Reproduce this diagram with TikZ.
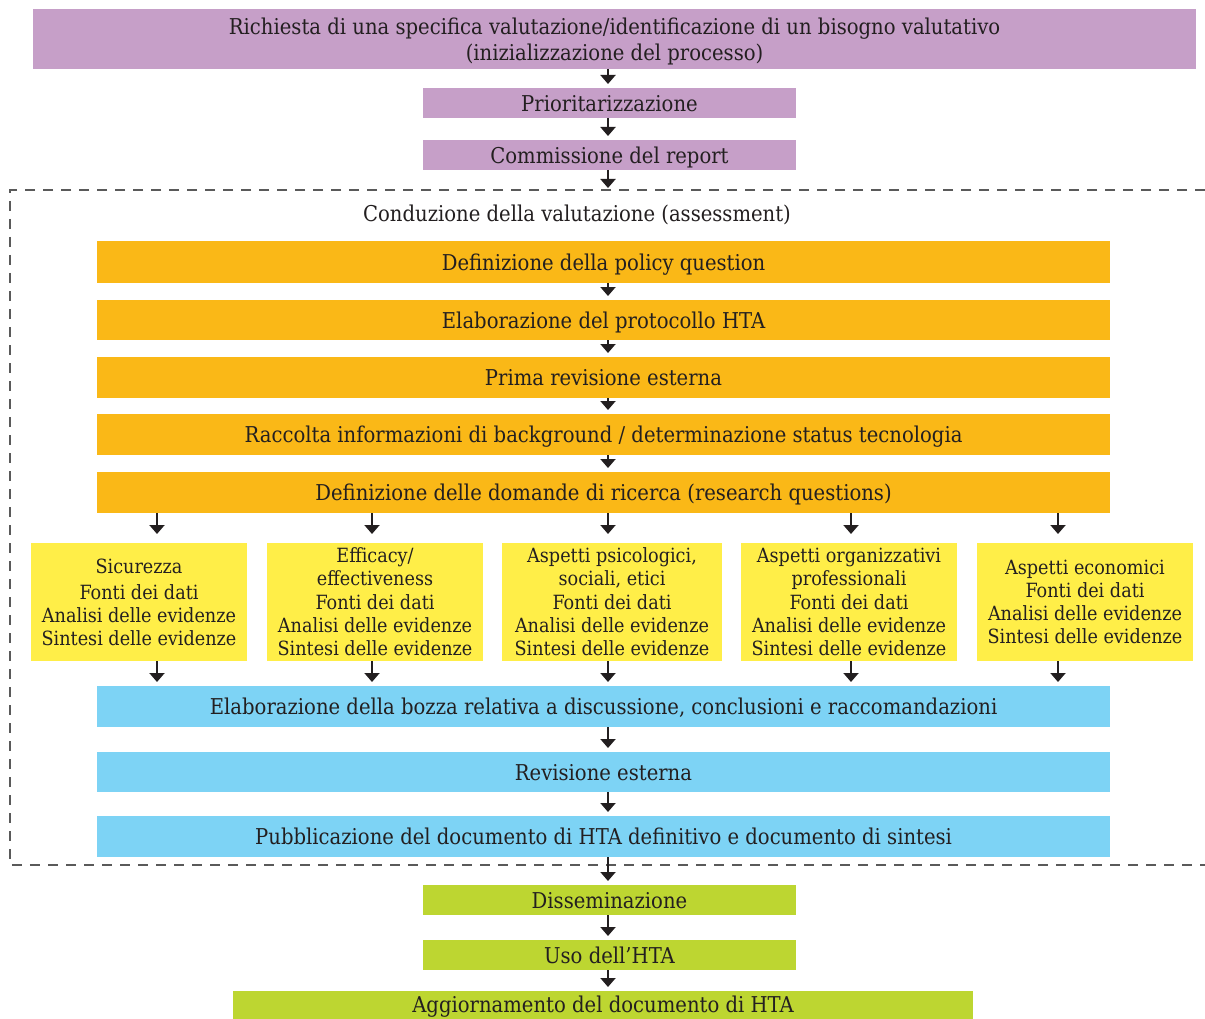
\documentclass[tikz,border=0pt]{standalone}
\usepackage{fontspec}
\setmainfont{DejaVu Serif Condensed}
\usetikzlibrary{arrows.meta}
\definecolor{cpurple}{RGB}{198,159,200}
\definecolor{corange}{RGB}{250,184,23}
\definecolor{cyellow}{RGB}{255,238,72}
\definecolor{cblue}{RGB}{125,211,245}
\definecolor{cgreen}{RGB}{189,214,49}
\definecolor{ctext}{RGB}{35,31,32}
\definecolor{cdash}{RGB}{90,90,90}
\tikzset{
  box/.style={inner sep=0pt, outer sep=0pt, align=center, text=ctext,
    font=\fontsize{21.8}{26}\selectfont},
  lowbox/.style={box, text depth=0pt},
  pbox/.style={lowbox, fill=cpurple},
  obox/.style={lowbox, fill=corange},
  ybox/.style={box, fill=cyellow, font=\fontsize{19.6}{23}\selectfont, minimum height=118pt},
  bbox/.style={lowbox, fill=cblue},
  gbox/.style={lowbox, fill=cgreen},
  flow/.style={draw=ctext, line width=2pt, -{Triangle[width=15pt,length=9pt]}, shorten >=4pt},
  flowy/.style={flow, shorten >=9pt},
}
\begin{document}
\begin{tikzpicture}[x=1pt,y=-1pt]
\useasboundingbox (0,0) rectangle (1205,1019);
\fill[white] (0,0) rectangle (1205,1019);
% dashed frame
\draw[cdash, line width=1.5pt, dash pattern=on 10pt off 8pt] (1205,190) -- (10,190) -- (10,865) -- (1205,865);

\coordinate (sp) at (608,0);
\node[pbox, minimum width=1163pt, minimum height=60pt] (top) at (614.5,39) {Richiesta di una specifica valutazione/identificazione di un bisogno valutativo\\(inizializzazione del processo)};
\node[pbox, minimum width=373pt, minimum height=30pt] (prio) at (609.5,103) {Prioritarizzazione};
\node[pbox, minimum width=373pt, minimum height=30pt] (comm) at (609.5,155) {Commissione del report};

\node[box] (cond) at (577,215) {Conduzione della valutazione (assessment)};

\node[obox, minimum width=1013pt, minimum height=42pt] (o1) at (603.5,262) {Definizione della policy question};
\node[obox, minimum width=1013pt, minimum height=40pt] (o2) at (603.5,320) {Elaborazione del protocollo HTA};
\node[obox, minimum width=1013pt, minimum height=41pt] (o3) at (603.5,377.5) {Prima revisione esterna};
\node[obox, minimum width=1013pt, minimum height=41pt] (o4) at (603.5,434.5) {Raccolta informazioni di background / determinazione status tecnologia};
\node[obox, minimum width=1013pt, minimum height=41pt] (o5) at (603.5,492.5) {Definizione delle domande di ricerca (research questions)};

\node[ybox, minimum width=216pt] (y1) at (139,602) {Sicurezza\\[3pt]Fonti dei dati\\Analisi delle evidenze\\Sintesi delle evidenze};
\node[ybox, minimum width=216pt] (y2) at (375,602) {Efficacy/\\effectiveness\\[1pt]Fonti dei dati\\Analisi delle evidenze\\Sintesi delle evidenze};
\node[ybox, minimum width=220pt] (y3) at (612,602) {Aspetti psicologici,\\sociali, etici\\[1pt]Fonti dei dati\\Analisi delle evidenze\\Sintesi delle evidenze};
\node[ybox, minimum width=216pt] (y4) at (849,602) {Aspetti organizzativi\\professionali\\[1pt]Fonti dei dati\\Analisi delle evidenze\\Sintesi delle evidenze};
\node[ybox, minimum width=216pt] (y5) at (1085,602) {Aspetti economici\\Fonti dei dati\\Analisi delle evidenze\\Sintesi delle evidenze};

\node[bbox, minimum width=1013pt, minimum height=41pt] (b1) at (603.5,706.5) {Elaborazione della bozza relativa a discussione, conclusioni e raccomandazioni};
\node[bbox, minimum width=1013pt, minimum height=40pt] (b2) at (603.5,772) {Revisione esterna};
\node[bbox, minimum width=1013pt, minimum height=41pt] (b3) at (603.5,836.5) {Pubblicazione del documento di HTA definitivo e documento di sintesi};

\node[gbox, minimum width=373pt, minimum height=30pt] (g1) at (609.5,900) {Disseminazione};
\node[gbox, minimum width=373pt, minimum height=30pt] (g2) at (609.5,955) {Uso dell’HTA};
\node[box, fill=cgreen, minimum width=740pt, minimum height=32pt] (g3) at (603,1007) {Aggiornamento del documento di HTA};

% spine arrows
\draw[flow] (top.south -| sp) -- (prio.north -| sp);
\draw[flow] (prio.south -| sp) -- (comm.north -| sp);
\draw[flow] (comm.south -| sp) -- ++(0,22);
\draw[flow] (o1.south -| sp) -- (o2.north -| sp);
\draw[flow] (o2.south -| sp) -- (o3.north -| sp);
\draw[flow] (o3.south -| sp) -- (o4.north -| sp);
\draw[flow] (o4.south -| sp) -- (o5.north -| sp);
\draw[flow] (b1.south -| sp) -- (b2.north -| sp);
\draw[flow] (b2.south -| sp) -- (b3.north -| sp);
\draw[flow] (b3.south -| sp) -- (g1.north -| sp);
\draw[flow] (g1.south -| sp) -- (g2.north -| sp);
\draw[flow] (g2.south -| sp) -- (g3.north -| sp);

% branch arrows
\foreach \n/\xx in {1/157, 2/372, 3/608, 4/851, 5/1058} {
  \coordinate (ax\n) at (\xx,0);
  \draw[flowy] (o5.south -| ax\n) -- (y\n.north -| ax\n);
  \draw[flow] (y\n.south -| ax\n) -- (b1.north -| ax\n);
}
\end{tikzpicture}
\end{document}
